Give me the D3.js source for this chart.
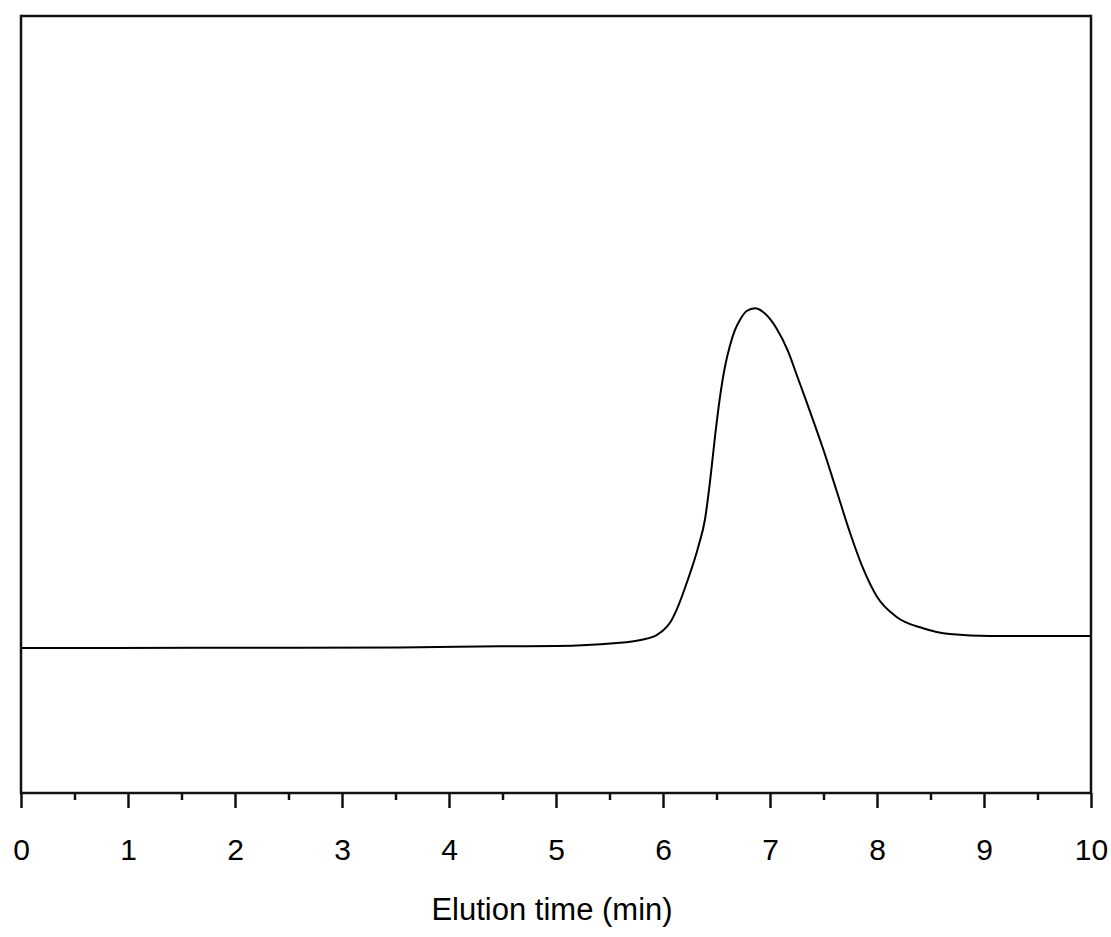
<!DOCTYPE html>
<html>
<head>
<meta charset="utf-8">
<script src="https://cdn.jsdelivr.net/npm/d3@7"></script>
<style>
  html, body { margin: 0; padding: 0; background: #fff; }
  svg { display: block; }
  text { font-family: Arial, "Liberation Sans", sans-serif; fill: #000; }
</style>
</head>
<body>
<svg id="chart" width="1111" height="937"></svg>
<script>
// Elution time (min)
const times = [0, 1.673, 3.54, 4.48, 5.0, 5.54, 5.79, 5.94, 6.00, 6.07, 6.128, 6.236, 6.330, 6.393, 6.439, 6.486, 6.533, 6.579, 6.626, 6.673, 6.720, 6.782, 6.860, 6.95, 7.06, 7.17, 7.25, 7.34, 7.50, 7.62, 7.75, 7.87, 8.00, 8.18, 8.43, 8.68, 9.06, 10.0];
// Detector signal (arbitrary units)
const signal = [18.66, 18.69, 18.73, 18.88, 18.92, 19.27, 19.69, 20.33, 20.9, 22.0, 23.6, 27.6, 31.7, 35.26, 40.03, 45.86, 51.00, 54.86, 57.6, 59.59, 60.9, 62.03, 62.38, 61.74, 59.81, 56.80, 53.80, 50.4, 44.14, 39.00, 33.4, 28.9, 25.26, 22.69, 21.20, 20.46, 20.21, 20.21];
const majorTicks = [0, 1, 2, 3, 4, 5, 6, 7, 8, 9, 10];
const minorTicks = [0.5, 1.5, 2.5, 3.5, 4.5, 5.5, 6.5, 7.5, 8.5, 9.5];
const xTitle = "Elution time (min)";

const svg = d3.select("#chart");
const mLeft = 21, mRight = 1091, mTop = 16, mBottom = 793;

const x = d3.scaleLinear().domain([0, 10]).range([mLeft, mRight]);
const y = d3.scaleLinear().domain([0, 100]).range([mBottom, mTop]);

// minor ticks
svg.append("g")
  .attr("transform", `translate(0,${mBottom})`)
  .call(d3.axisBottom(x).tickValues(minorTicks).tickSize(7).tickFormat(""))
  .call(g => g.select(".domain").remove())
  .call(g => g.selectAll("line").attr("stroke", "#111").attr("stroke-width", 2.5));

// major ticks
svg.append("g")
  .attr("transform", `translate(0,${mBottom})`)
  .call(d3.axisBottom(x).tickValues(majorTicks).tickSize(15).tickFormat(d3.format("d")))
  .call(g => g.select(".domain").remove())
  .call(g => g.selectAll("line").attr("stroke", "#111").attr("stroke-width", 2.5))
  .call(g => g.selectAll("text")
    .attr("y", 67).attr("dy", null)
    .attr("font-size", 30)
    .attr("font-family", "Arial, 'Liberation Sans', sans-serif")
    .attr("fill", "#000"));

// frame
svg.append("rect")
  .attr("x", mLeft).attr("y", mTop)
  .attr("width", mRight - mLeft).attr("height", mBottom - mTop)
  .attr("fill", "none").attr("stroke", "#111").attr("stroke-width", 2.5);

// curve
const line = d3.line()
  .x((d, i) => x(times[i]))
  .y((d, i) => y(signal[i]))
  .curve(d3.curveMonotoneX);

svg.append("path")
  .datum(times)
  .attr("d", line)
  .attr("fill", "none")
  .attr("stroke", "#000")
  .attr("stroke-width", 2);

// axis title
svg.append("text")
  .attr("x", 552).attr("y", 920)
  .attr("text-anchor", "middle")
  .attr("font-size", 31)
  .text(xTitle);
</script>
</body>
</html>
